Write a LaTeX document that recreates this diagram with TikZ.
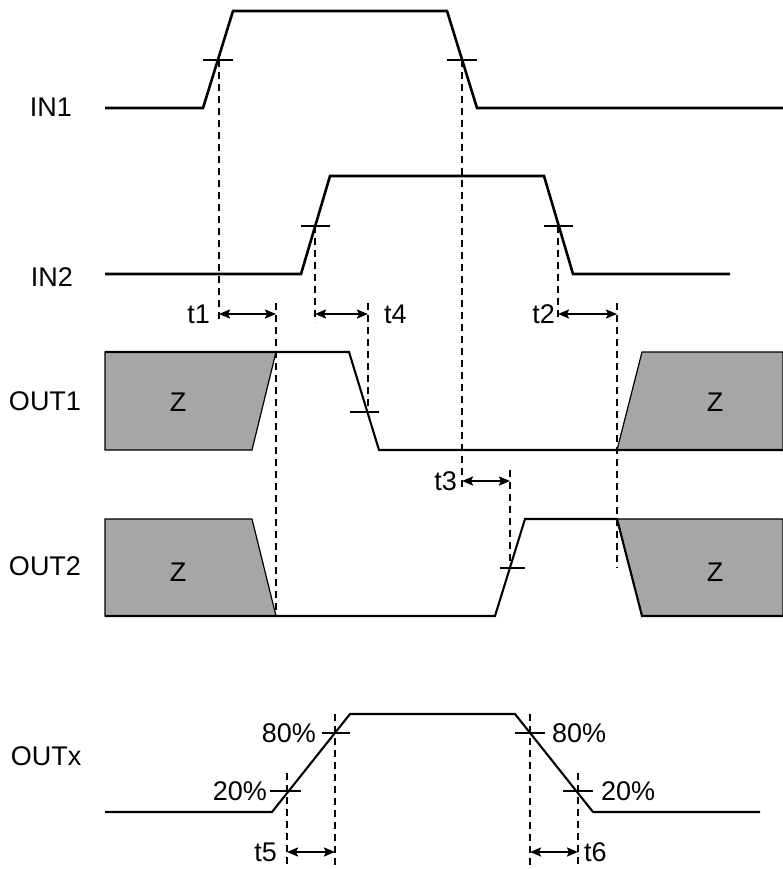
\documentclass[tikz,border=0pt]{standalone}
\usepackage{fontspec}
\setmainfont{Liberation Sans}
\usetikzlibrary{arrows.meta}
\definecolor{zgray}{RGB}{166,166,166}
\begin{document}
\begin{tikzpicture}[x=1pt,y=-1pt,
  sigin/.style={line width=2.6pt, line join=miter},
  sigout/.style={line width=2.1pt, line join=miter},
  tickln/.style={line width=1.2pt},
  dashline/.style={line width=1.2pt, dash pattern=on 7pt off 5pt},
  dimarrow/.style={line width=2pt, {Stealth[length=11pt,width=9pt,inset=2pt]}-{Stealth[length=11pt,width=9pt,inset=2pt]}},
  zbox/.style={fill=zgray, draw=black, line width=1.2pt, line join=miter},
  lbl/.style={font=\fontsize{27}{32}\selectfont, inner sep=0pt},
]
\useasboundingbox (0,0) rectangle (783,869);

% ---------- signal names ----------
\node[lbl] (nIN1)  at (51,107)  {IN1};
\node[lbl] (nIN2)  at (52,277)  {IN2};
\node[lbl] (nOUT1) at (45,401)  {OUT1};
\node[lbl] (nOUT2) at (45,566)  {OUT2};
\node[lbl] (nOUTx) at (46,756)  {OUTx};

% ---------- high-Z boxes ----------
\draw[zbox] (105,352) -- (276,352) -- (252,450) -- (105,450) -- cycle;
\draw[zbox] (617,450) -- (642,352) -- (783,352) -- (783,450) -- cycle;
\draw[zbox] (105,519) -- (252,519) -- (276,616) -- (105,616) -- cycle;
\draw[zbox] (617,519) -- (783,519) -- (783,616) -- (642,616) -- cycle;
\node[lbl] (z1) at (178,402) {Z};
\node[lbl] (z2) at (715,402) {Z};
\node[lbl] (z3) at (178,572) {Z};
\node[lbl] (z4) at (715,572) {Z};

% ---------- waveforms ----------
\draw[sigin] (105,108) -- (203,108) -- (233,11) -- (447,11) -- (477,108) -- (783,108);
\draw[sigin] (105,274) -- (301,274) -- (330,176) -- (544,176) -- (573,274) -- (730,274);
\draw[sigout] (105,352) -- (349,352) -- (379,450) -- (783,450);
\draw[sigout] (105,616) -- (495,616) -- (525,519) -- (617,519) -- (642,616) -- (783,616);
\draw[sigout] (105,812) -- (272,812) -- (350,714) -- (515,714) -- (593,812) -- (760,812);

% ---------- threshold ticks ----------
\draw[tickln] (203,60) -- (233,60);
\draw[tickln] (447,60) -- (477,60);
\draw[tickln] (301,226) -- (330,226);
\draw[tickln] (544,226) -- (573,226);
\draw[tickln] (350,412) -- (379,412);
\draw[tickln] (500,568) -- (525,568);
\draw[tickln] (322,733) -- (350,733);
\draw[tickln] (270,791) -- (301,791);
\draw[tickln] (515,733) -- (545,733);
\draw[tickln] (563,791) -- (593,791);

% ---------- marker coordinates ----------
\coordinate (a1) at (219,60);  \coordinate (a1b) at (219,322);
\coordinate (b1) at (462,60);  \coordinate (b1b) at (462,490);
\coordinate (c1) at (315,226); \coordinate (c1b) at (315,322);
\coordinate (c2) at (558,226); \coordinate (c2b) at (558,322);
\coordinate (e1) at (276,303); \coordinate (e1b) at (276,616);
\coordinate (e2) at (368,303); \coordinate (e2b) at (368,412);
\coordinate (e3) at (617,303); \coordinate (e3b) at (617,568);
\coordinate (f1) at (510,470); \coordinate (f1b) at (510,568);
\coordinate (g1) at (287,773); \coordinate (g1b) at (287,869);
\coordinate (g2) at (335,714); \coordinate (g2b) at (335,869);
\coordinate (h1) at (530,714); \coordinate (h1b) at (530,869);
\coordinate (h2) at (578,773); \coordinate (h2b) at (578,869);

\foreach \p in {a1,b1,c1,c2,e1,e2,e3,f1,g1,g2,h1,h2}
  \draw[dashline] (\p) -- (\p b);

% ---------- dimension arrows ----------
\coordinate (t1l) at (219,314); \coordinate (t1r) at (276,314);
\coordinate (t4l) at (315,314); \coordinate (t4r) at (368,314);
\coordinate (t2l) at (558,314); \coordinate (t2r) at (617,314);
\coordinate (t3l) at (462,481); \coordinate (t3r) at (510,481);
\coordinate (t5l) at (287,852); \coordinate (t5r) at (335,852);
\coordinate (t6l) at (530,852); \coordinate (t6r) at (578,852);
\foreach \p in {t1,t4,t2,t3,t5,t6}
  \draw[dimarrow] (\p l) -- (\p r);

\node[lbl, anchor=east] (lt1) at (210,314) {t1};
\node[lbl, anchor=west] (lt4) at (384,314) {t4};
\node[lbl, anchor=east] (lt2) at (555,314) {t2};
\node[lbl, anchor=east] (lt3) at (457,481) {t3};
\node[lbl, anchor=east] (lt5) at (277,852) {t5};
\node[lbl, anchor=west] (lt6) at (584,852) {t6};

\node[lbl, anchor=east] (p80a) at (316,733) {80\%};
\node[lbl, anchor=east] (p20a) at (267,791) {20\%};
\node[lbl, anchor=west] (p80b) at (552,733) {80\%};
\node[lbl, anchor=west] (p20b) at (601,791) {20\%};
\end{tikzpicture}
\end{document}
